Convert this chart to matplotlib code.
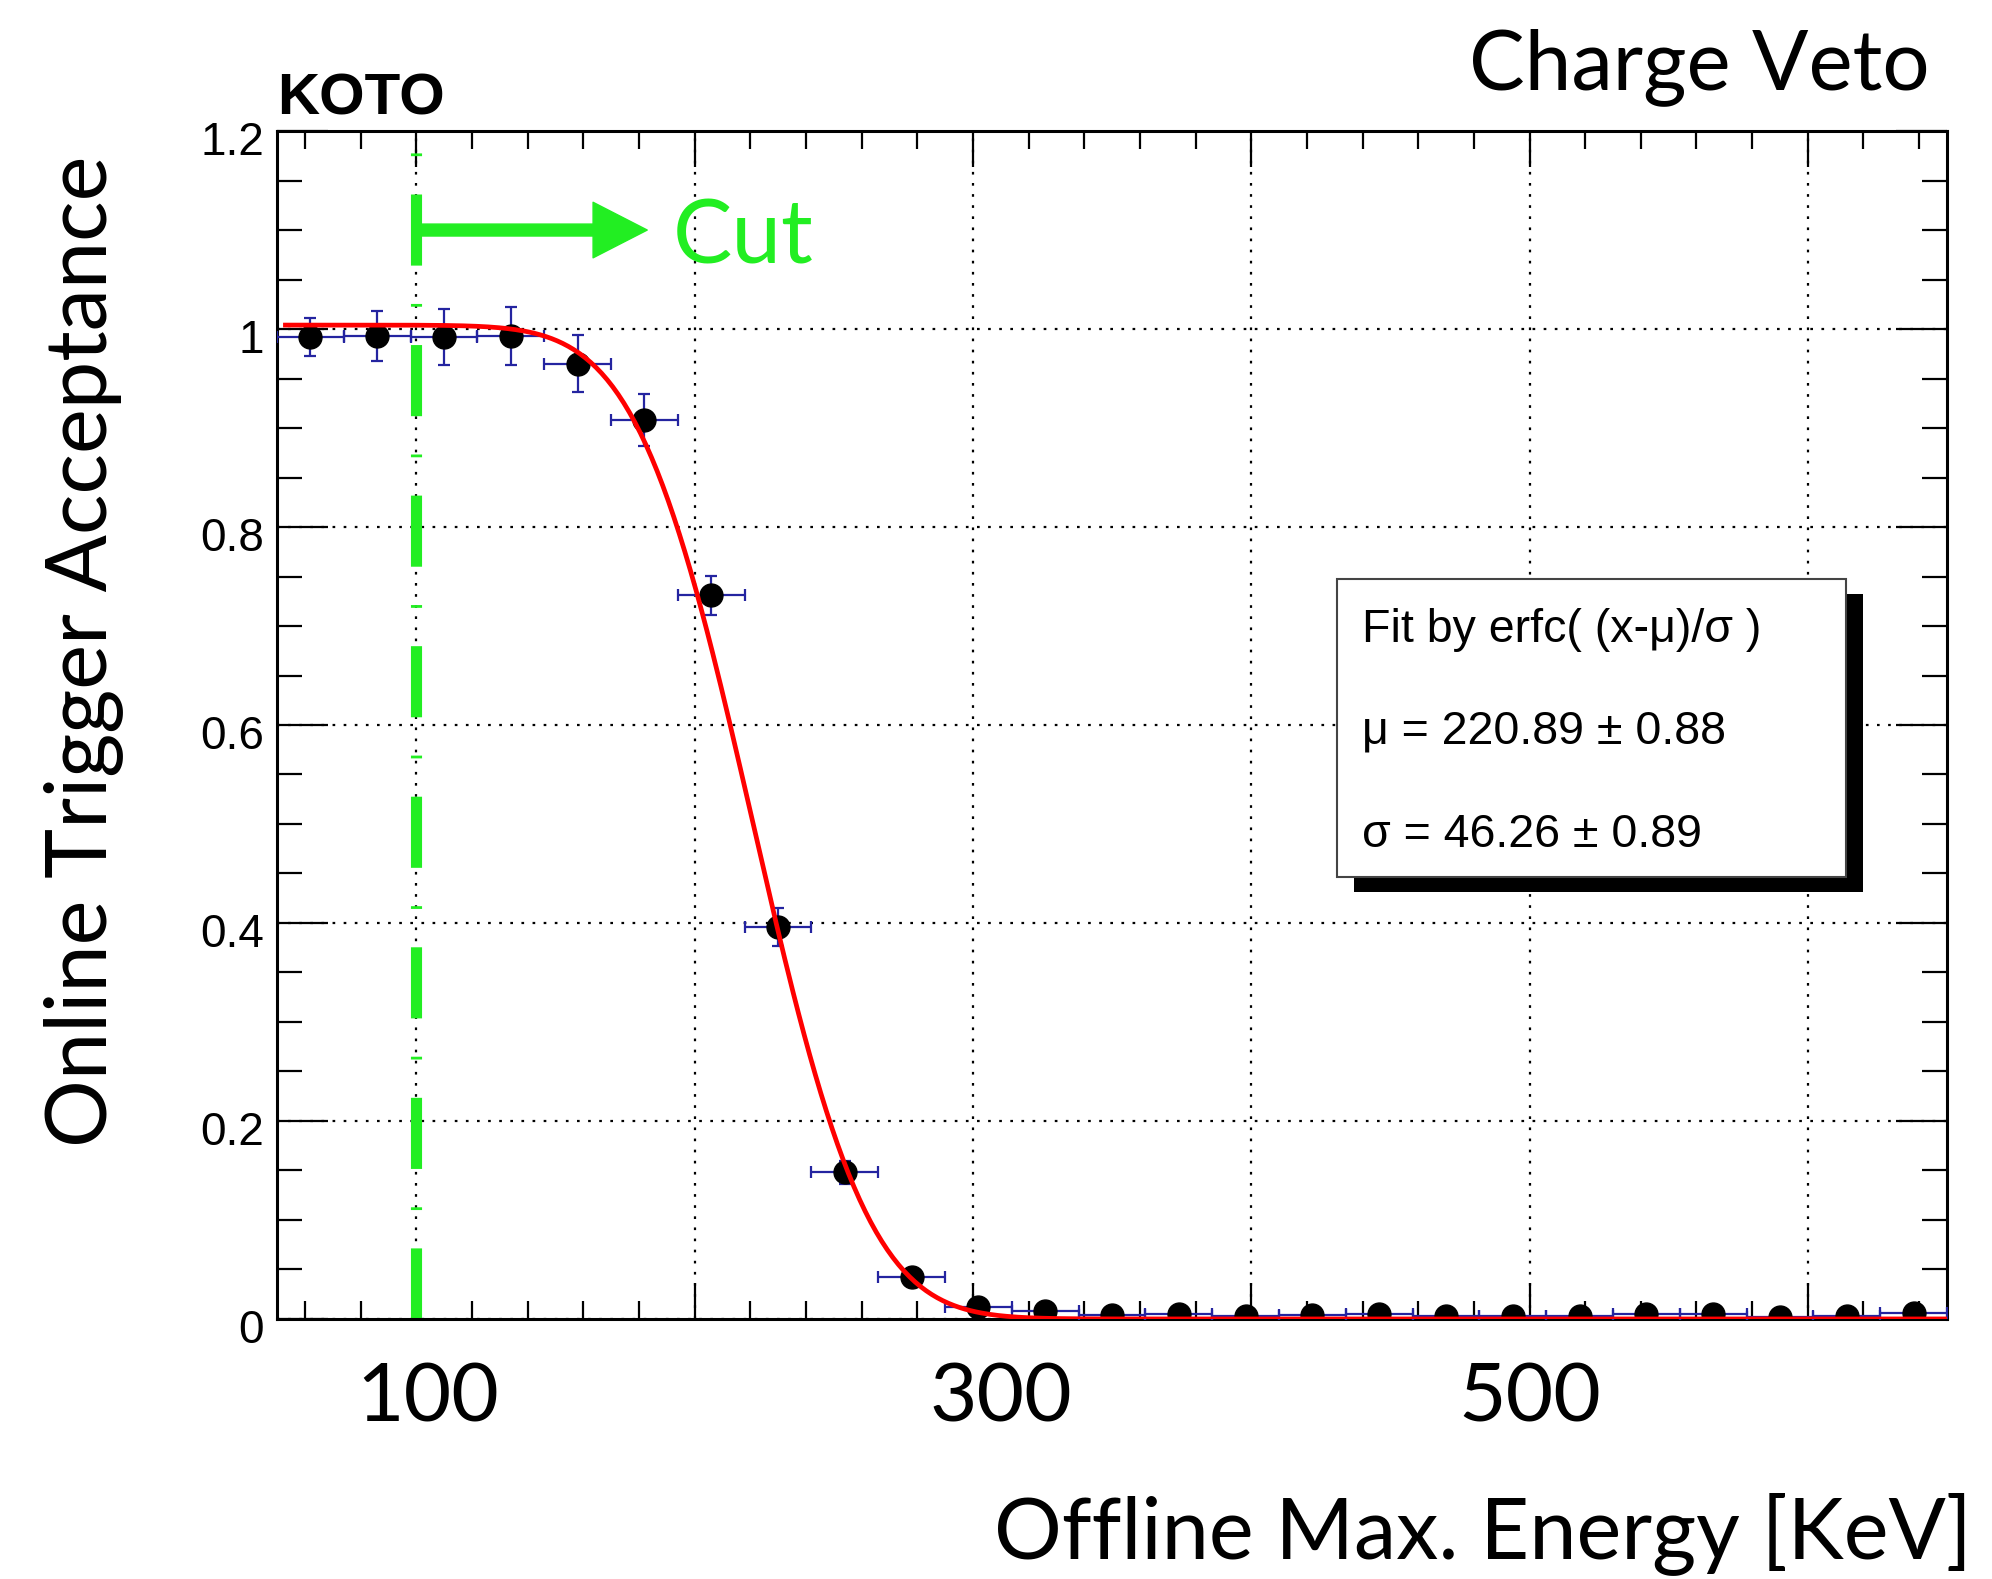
import math
import numpy as np
import matplotlib
matplotlib.use('Agg')
import matplotlib.pyplot as plt
from matplotlib.patches import Rectangle, FancyArrowPatch, ArrowStyle
from matplotlib.ticker import MultipleLocator
from matplotlib.transforms import ScaledTranslation

# --- data ---
energy = [62, 86, 110, 134, 158, 182, 206, 230, 254, 278, 302, 326, 350,
          374, 398, 422, 446, 470, 494, 518, 542, 566, 590, 614, 638]
bin_half_width = 12
acceptance = [0.992, 0.993, 0.992, 0.993, 0.965, 0.908, 0.731, 0.396, 0.148,
              0.042, 0.012, 0.008, 0.004, 0.005, 0.003, 0.004, 0.005, 0.003,
              0.003, 0.003, 0.005, 0.005, 0.002, 0.003, 0.006]
acceptance_err = [0.019, 0.025, 0.028, 0.029, 0.029, 0.026, 0.020, 0.019, 0.012,
                  0.008, 0.004, 0.003, 0.002, 0.002, 0.002, 0.002, 0.002, 0.002,
                  0.002, 0.002, 0.002, 0.002, 0.002, 0.002, 0.002]

# erfc fit shown in the stats box
fit_mu, fit_mu_err = 220.89, 0.88
fit_sigma, fit_sigma_err = 46.26, 0.89
fit_norm = 0.502
fit_range = (53, 650)

cut_energy = 100
arrow_end = 183
arrow_y = 1.1

x_ticks = [100, 200, 300, 400, 500, 600]
x_ticklabels = ['100', '', '300', '', '500', '']
x_label_shift = [11, 0, 28, 0, 0, 0]   # px, hand placed labels in the original

GREEN = '#22ee22'
ERR_BLUE = '#2424a0'
GILL = 'Lato'
HELV = 'Liberation Sans'

fig = plt.figure(figsize=(19.92, 15.79), dpi=100)
ax = fig.add_axes([0.1391, 0.1647, 0.8383, 0.7523])
ax.set_xlim(50, 650)
ax.set_ylim(0, 1.2)

# ticks / grid (ROOT style)
ax.set_xticks(x_ticks, x_ticklabels)
ax.xaxis.set_minor_locator(MultipleLocator(20))
ax.yaxis.set_major_locator(MultipleLocator(0.2))
ax.yaxis.set_minor_locator(MultipleLocator(0.05))
ax.yaxis.set_major_formatter(lambda v, pos: f'{v:g}')
ax.tick_params(axis='x', which='major', direction='in', top=True, length=26, width=1.6, pad=30.5)
ax.tick_params(axis='x', which='minor', direction='in', top=True, length=13, width=1.6)
ax.tick_params(axis='y', which='major', direction='in', right=True, length=37, width=1.6, pad=9.5)
ax.tick_params(axis='y', which='minor', direction='in', right=True, length=18, width=1.6)
for lab in ax.get_xticklabels():
    lab.set_fontfamily(GILL)
    lab.set_fontsize(59)
for lab, dx in zip(ax.get_xticklabels(), x_label_shift):
    lab.set_transform(lab.get_transform() + ScaledTranslation(dx / 100, 0, fig.dpi_scale_trans))
for lab in ax.get_yticklabels():
    lab.set_fontfamily(HELV)
    lab.set_fontsize(33)
    lab.set_transform(lab.get_transform() + ScaledTranslation(0, -7 / 100, fig.dpi_scale_trans))
for sp in ax.spines.values():
    sp.set_linewidth(2.2)
ax.grid(True, which='major', color='black', linestyle=(0, (1.2, 3.8)), linewidth=1.6)
ax.set_axisbelow(True)

# cut line and arrow
ax.axvline(cut_energy, color=GREEN, lw=8, linestyle=(0, (6.4, 3.45, 0.25, 3.45)), zorder=2)
arrow = FancyArrowPatch((cut_energy, arrow_y), (arrow_end, arrow_y),
                        arrowstyle=ArrowStyle.Simple(head_length=39, head_width=40, tail_width=8.6),
                        mutation_scale=1, color=GREEN, shrinkA=0, shrinkB=0, zorder=3)
ax.add_patch(arrow)
ax.text(arrow_end + 9, 1.066, 'Cut', color=GREEN, fontsize=64, family=GILL, va='baseline')

# data
ax.errorbar(energy, acceptance, xerr=bin_half_width, yerr=acceptance_err, fmt='o',
            color='black', ms=16.5, ecolor=ERR_BLUE, elinewidth=1.6, capsize=4.5,
            capthick=1.6, zorder=3)

# fit curve
xs = np.linspace(fit_range[0], fit_range[1], 600)
ys = fit_norm * np.array([math.erfc((x - fit_mu) / fit_sigma) for x in xs])
ax.plot(xs, ys, color='red', lw=3.4, zorder=4)

# stats box with shadow
bx, by, bw, bh = 0.6347, 0.3721, 0.3051, 0.2508
ax.add_patch(Rectangle((bx + 0.010, by - 0.013), bw, bh, transform=ax.transAxes,
                       facecolor='black', edgecolor='none', zorder=5, clip_on=False))
ax.add_patch(Rectangle((bx, by), bw, bh, transform=ax.transAxes, facecolor='white',
                       edgecolor='#444444', lw=1.5, zorder=6, clip_on=False))
box_lines = ['Fit by erfc( (x-\u03bc)/\u03c3 )',
             f'\u03bc = {fit_mu:.2f} \u00b1 {fit_mu_err:.2f}',
             f'\u03c3 = {fit_sigma:.2f} \u00b1 {fit_sigma_err:.2f}']
for txt, yb in zip(box_lines, [0.5699, 0.4848, 0.3973]):
    ax.text(0.6497, yb, txt, transform=ax.transAxes, fontsize=33.5, family=HELV,
            va='baseline', zorder=7)

# labels
fig.text(0.139, 0.9272, 'KOTO', fontsize=42, family=HELV, weight='bold', va='baseline')
fig.text(0.9689, 0.9436, 'Charge Veto', fontsize=60, family=GILL, ha='right', va='baseline')
fig.text(0.98996, 0.0133, 'Offline Max. Energy [KeV]', fontsize=61, family=GILL,
         ha='right', va='baseline')
fig.text(0.0417, 0.5877, 'Online Trigger Acceptance', fontsize=61, family=GILL,
         rotation=90, ha='center', va='center')

fig.savefig('out.png', dpi=100)
